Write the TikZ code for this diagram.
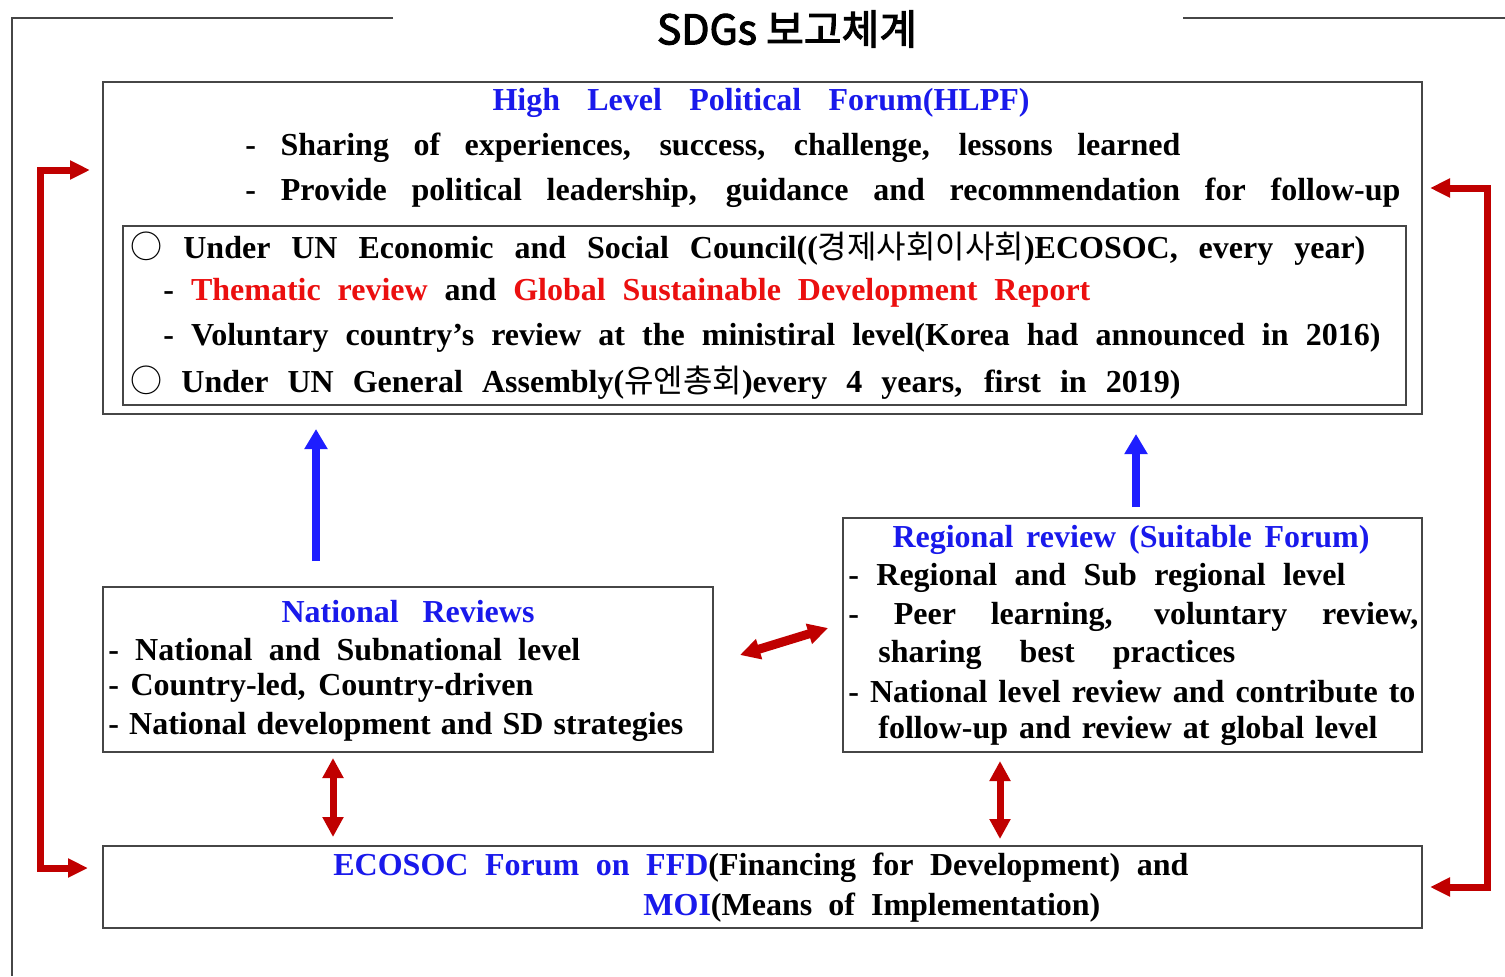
\documentclass[tikz,border=0pt]{standalone}
\usepackage{fontspec}
\setmainfont{Liberation Serif}
\newfontfamily\krfont{Noto Sans CJK KR}
\newfontfamily\titlefont[FakeBold=2.5]{Noto Sans CJK KR}
\usetikzlibrary{arrows.meta}

\definecolor{frameGray}{RGB}{70,70,70}
\definecolor{headBlue}{RGB}{25,25,235}
\definecolor{noteRed}{RGB}{235,15,15}
\definecolor{linkRed}{RGB}{192,0,0}
\definecolor{linkBlue}{RGB}{30,30,255}

% one unit of the picture
\newlength\pxu
\setlength\pxu{0.5pt}
\newcommand{\spreadto}[2]{\makebox[#1\pxu][s]{#2}}
\newcommand{\hangul}[1]{{\krfont\mdseries #1}}
\newcommand{\opencirc}{{\krfont\mdseries ○}}
\newcommand{\bodysize}{\fontsize{16pt}{18pt}\selectfont\bfseries}

\tikzset{
  panel/.style={draw=frameGray, line width=1pt, inner sep=0pt},
  txtline/.style={anchor=west, inner sep=0pt, font=\bodysize},
  boxtitle/.style={anchor=center, inner sep=0pt, font=\bodysize, text=headBlue},
  upArrow/.style={draw=linkBlue, line width=4pt, -{Triangle[length=10pt,width=11pt]}},
  twoWay/.style={draw=linkRed, line width=3.5pt,
    {Triangle[length=10pt,width=10pt]}-{Triangle[length=10pt,width=10pt]}},
  loopArrow/.style={draw=linkRed, line width=3.5pt, line join=miter,
    {Triangle[length=10pt,width=9pt]}-{Triangle[length=10pt,width=9pt]}},
}

\begin{document}
\begin{tikzpicture}[x=0.5pt, y=-0.5pt]
\useasboundingbox (0,0) rectangle (1505,976);

% outer frame and heading
\draw[frameGray, line width=1pt] (393,18) -- (12,18) -- (12,976);
\draw[frameGray, line width=1pt] (1183,18) -- (1505,18);
\node[inner sep=0pt, font=\titlefont\fontsize{20.5pt}{22pt}\selectfont] (heading) at (787,29) {SDGs 보고체계};

% boxes
\node[panel, minimum width=1319\pxu, minimum height=332\pxu] (hlpf) at (762.5,248) {};
\node[panel, line width=0.75pt, minimum width=1283\pxu, minimum height=179\pxu] (council) at (764.5,315.5) {};
\node[panel, minimum width=610\pxu, minimum height=165\pxu] (national) at (408,669.5) {};
\node[panel, minimum width=579\pxu, minimum height=234\pxu] (regional) at (1132.5,635) {};
\node[panel, minimum width=1319\pxu, minimum height=82\pxu] (ecosoc) at (762.5,887) {};

% HLPF
\node[boxtitle] (hlpfTitle) at (761,103) {\spreadto{537}{High Level Political Forum(HLPF)}};
\node[txtline] (hlpf1) at (245,148) {\spreadto{935}{- Sharing of experiences, success, challenge, lessons learned}};
\node[txtline] (hlpf2) at (245,193) {\spreadto{1155}{- Provide political leadership, guidance and recommendation for follow-up}};
\node[txtline] (council1) at (130,249) {\spreadto{1235}{\opencirc\ Under UN Economic and Social Council((\hangul{경제사회이사회})ECOSOC, every year)}};
\node[txtline] (council2) at (163,293) {\spreadto{927}{- \textcolor{noteRed}{Thematic review} and \textcolor{noteRed}{Global Sustainable Development Report}}};
\node[txtline] (council3) at (163,338) {\spreadto{1217}{- Voluntary country’s review at the ministiral level(Korea had announced in 2016)}};
\node[txtline] (council4) at (130,383) {\spreadto{1050}{\opencirc\ Under UN General Assembly(\hangul{유엔총회})every 4 years, first in 2019)}};

% national reviews
\node[boxtitle] (natTitle) at (408,612) {\spreadto{253}{National Reviews}};
\node[txtline] (nat1) at (108,650) {\spreadto{472}{- National and Subnational level}};
\node[txtline] (nat2) at (108,688) {\spreadto{425}{- Country-led, Country-driven}};
\node[txtline] (nat3) at (108,727) {\spreadto{575}{- National development and SD strategies}};

% regional review
\node[boxtitle] (regTitle) at (1131,540) {\spreadto{477}{Regional review (Suitable Forum)}};
\node[txtline] (reg1) at (848,578) {\spreadto{497}{- Regional and Sub regional level}};
\node[txtline] (reg2) at (848,617) {\spreadto{570}{- Peer learning, voluntary review,}};
\node[txtline] (reg3) at (878,655) {\spreadto{357}{sharing best practices}};
\node[txtline] (reg4) at (848,692) {\spreadto{567}{- National level review and contribute to}};
\node[txtline] (reg5) at (878,731) {\spreadto{499}{follow-up and review at global level}};

% ECOSOC forum
\node[txtline] (eco1) at (333,868) {\spreadto{855}{\textcolor{headBlue}{ECOSOC Forum on FFD}(Financing for Development) and}};
\node[txtline] (eco2) at (643,908) {\spreadto{457}{\textcolor{headBlue}{MOI}(Means of Implementation)}};

% upward links
\coordinate (natUp) at (316,0);
\coordinate (regUp) at (1136,0);
\draw[upArrow, shorten <=12.5pt, shorten >=7pt] (national.north -| natUp) -- (hlpf.south -| natUp);
\draw[upArrow, shorten <=5pt, shorten >=9.5pt] (regional.north -| regUp) -- (hlpf.south -| regUp);

% two-way links
\coordinate (natDown) at (333,0);
\coordinate (regDown) at (1000,0);
\draw[twoWay, shorten <=2.5pt, shorten >=4pt] (national.south -| natDown) -- (ecosoc.north -| natDown);
\draw[twoWay, shorten <=4pt, shorten >=3pt] (regional.south -| regDown) -- (ecosoc.north -| regDown);
\coordinate (natSide) at (740,655);
\coordinate (regSide) at (828,628);
\draw[twoWay, line width=4.5pt] (natSide) -- (regSide);

% loops round the outside
\coordinate (hlpfIn) at (90,170);
\coordinate (ecoIn) at (88,868);
\draw[loopArrow] (hlpfIn) -- (40,170) |- (ecoIn);
\coordinate (hlpfOut) at (1430,188);
\coordinate (ecoOut) at (1430,887);
\draw[loopArrow] (hlpfOut) -- (1487,188) |- (ecoOut);
\end{tikzpicture}
\end{document}
